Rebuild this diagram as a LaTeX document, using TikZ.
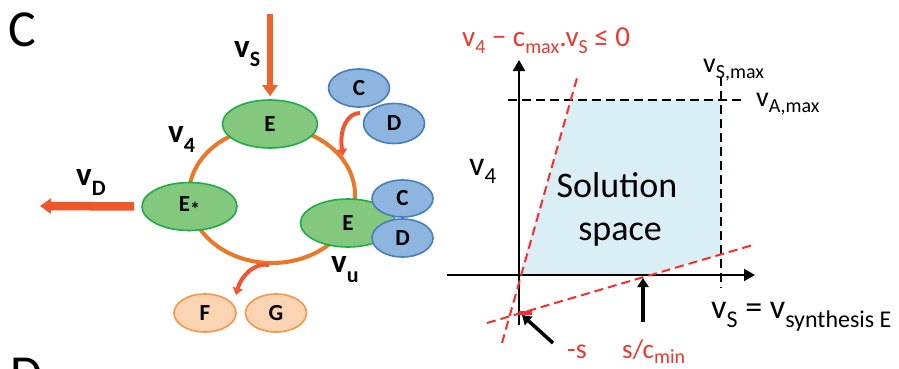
\documentclass[tikz,border=0pt]{standalone}
\usepackage{fontspec}
\setmainfont{Carlito}
\usetikzlibrary{shapes.geometric,arrows.meta}
\definecolor{ringc}{RGB}{235,120,40}
\definecolor{arrc}{RGB}{238,100,42}
\definecolor{arrd}{RGB}{238,88,40}
\definecolor{curvc}{RGB}{242,85,50}
\definecolor{greenf}{RGB}{132,200,126}
\definecolor{greenb}{RGB}{30,172,72}
\definecolor{bluef}{RGB}{142,180,224}
\definecolor{blueb}{RGB}{74,126,187}
\definecolor{peachf}{RGB}{251,212,180}
\definecolor{peachb}{RGB}{247,150,70}
\definecolor{solfill}{RGB}{218,238,245}
\definecolor{redc}{RGB}{250,45,45}
\definecolor{redtxt}{RGB}{240,55,45}
\newcommand\fs[1]{\fontsize{#1}{#1}\selectfont}
\newcommand\lsub[3]{\raisebox{-#1pt}{\fs{#2}#3}}
\tikzset{
  greenell/.style={ellipse, draw=greenb, fill=greenf, line width=1.6pt, minimum width=95pt, minimum height=48pt, inner sep=0pt, font=\fs{23}\bfseries},
  blueell/.style={ellipse, draw=blueb, fill=bluef, line width=1.6pt, minimum width=61pt, minimum height=38pt, inner sep=0pt, font=\fs{23}\bfseries},
  peachell/.style={ellipse, draw=peachb, fill=peachf, line width=1.6pt, minimum width=62pt, minimum height=38pt, inner sep=0pt, font=\fs{23}\bfseries},
  lbl/.style={inner sep=0pt, anchor=base west},
  fatarrow/.style={line width=6.5pt, -{Triangle[length=11pt,width=15pt]}},
  curvarrow/.style={draw=curvc, line width=4pt, -{Triangle[length=7pt,width=10pt]}},
  blkarrow/.style={line width=3.5pt, -{Triangle[length=9pt,width=11pt]}},
  axisline/.style={line width=2pt, -{Triangle[length=11pt,width=12pt]}},
  bdash/.style={line width=2pt, dash pattern=on 9pt off 5pt},
  rdash/.style={draw=redc, line width=2pt, dash pattern=on 9pt off 5pt}
}
\begin{document}
\begin{tikzpicture}[x=1pt,y=-1pt]
\useasboundingbox (0,0) rectangle (899,369);
\fill[white] (0,0) rectangle (899,369);

% panel letters
\node[lbl, font=\fs{52}] (labC) at (8,47) {C};
\node[lbl, font=\fs{52}] (labD) at (10,391) {D};

% ring
\node[draw=ringc, line width=4pt, ellipse, minimum width=166pt, minimum height=136pt, inner sep=0pt] (ring) at (272,195) {};

% ellipses
\node[greenell] (Etop) at (270,124) {E};
\node[greenell] (Estar) at (189.5,206.5) {E\lsub{5}{20}{*}};
\node[greenell] (Eright) at (348,223) {E};
\node[blueell] (Ctop) at (359,88) {C};
\node[blueell, minimum height=40pt] (Dtop) at (394,123.5) {D};
\node[blueell, minimum height=37pt] (Cr) at (402.5,198.5) {C};
\node[blueell] (Dr) at (402.5,238) {D};
\node[peachell] (F) at (205,313) {F};
\node[peachell, minimum width=61pt] (G) at (276,313) {G};

% fat arrows
\coordinate (vsTop) at (270,14);
\coordinate (vdEnd) at (40,206);
\draw[arrc, fatarrow, shorten >=3pt] (vsTop) -- (Etop.north);
\draw[arrd, fatarrow, line width=8.5pt, shorten <=7pt] (Estar.west) -- (vdEnd);

% curved arrows
\coordinate (c1s) at (360,113);
\coordinate (c1e) at (343,156);
\draw[curvarrow] (c1s) .. controls (347,113) and (339,130) .. (c1e);
\coordinate (c2s) at (269,265);
\coordinate (c2e) at (236,295);
\draw[curvarrow] (c2s) .. controls (255,262) and (241,276) .. (c2e);

% bold labels
\node[lbl, font=\fs{33}\bfseries] (lvS) at (234,58) {v\lsub{9}{22}{S}};
\node[lbl, font=\fs{33}\bfseries] (lv4) at (168,142) {v\lsub{10}{22}{4}};
\node[lbl, font=\fs{33}\bfseries] (lvD) at (76,185) {v\lsub{10}{22}{D}};
\node[lbl, font=\fs{33}\bfseries] (lvu) at (331,272) {v\lsub{10}{22}{u}};

% ---------- right panel ----------
\fill[solfill] (519,275) -- (572,100) -- (721,100) -- (721,255) -- (645,275) -- cycle;

\coordinate (hA) at (508,100);
\coordinate (hB) at (743,100);
\coordinate (vA) at (721,77);
\coordinate (vB) at (721,288);
\draw[bdash] (hA) -- (hB);
\draw[bdash] (vA) -- (vB);

\coordinate (yB) at (519,325);
\coordinate (yT) at (519,60);
\coordinate (xL) at (447,275);
\coordinate (xR) at (755,275);
\draw[axisline] (yB) -- (yT);
\draw[axisline] (xL) -- (xR);

\coordinate (r1a) at (502,343);
\coordinate (r1b) at (577,78);
\coordinate (r2a) at (487,323);
\coordinate (r2b) at (753,245);
\draw[rdash] (r1a) -- (r1b);
\draw[rdash] (r2a) -- (r2b);
\coordinate (ma) at (519,313);
\coordinate (mb) at (532,313);
\draw[redc, line width=4pt] (ma) -- (mb);

\coordinate (as1) at (553,343);
\coordinate (ae1) at (522,315);
\coordinate (as2) at (643,322);
\coordinate (ae2) at (643,278);
\draw[blkarrow] (as1) -- (ae1);
\draw[blkarrow] (as2) -- (ae2);

% texts
\node[lbl, font=\fs{29}, text=redtxt] (constr) at (462,47) {v\lsub{7}{20}{4} − c\lsub{7}{20}{max}.v\lsub{7}{20}{S} ≤ 0};
\node[lbl, font=\fs{34}] (lv4r) at (469,175) {v\lsub{8}{23}{4}};
\node[lbl, font=\fs{28}] (lvsmax) at (703,72) {v\lsub{6}{20}{S,max}};
\node[lbl, font=\fs{28}] (lvamax) at (756,106) {v\lsub{6}{20}{A,max}};
\node[inner sep=0pt, anchor=base, font=\fs{36}] (sol1) at (617,197) {Solution};
\node[inner sep=0pt, anchor=base, font=\fs{36}] (sol2) at (620,240) {space};
\node[lbl, font=\fs{34}] (lvsyn) at (711,318) {v\lsub{9}{24}{S} = v\lsub{9}{24}{synthesis E}};
\node[lbl, font=\fs{28}, text=redtxt] (lms) at (567,358) {-s};
\node[lbl, font=\fs{27}, text=redtxt] (lscmin) at (622,358) {s/c\lsub{5}{20}{min}};
\end{tikzpicture}
\end{document}
